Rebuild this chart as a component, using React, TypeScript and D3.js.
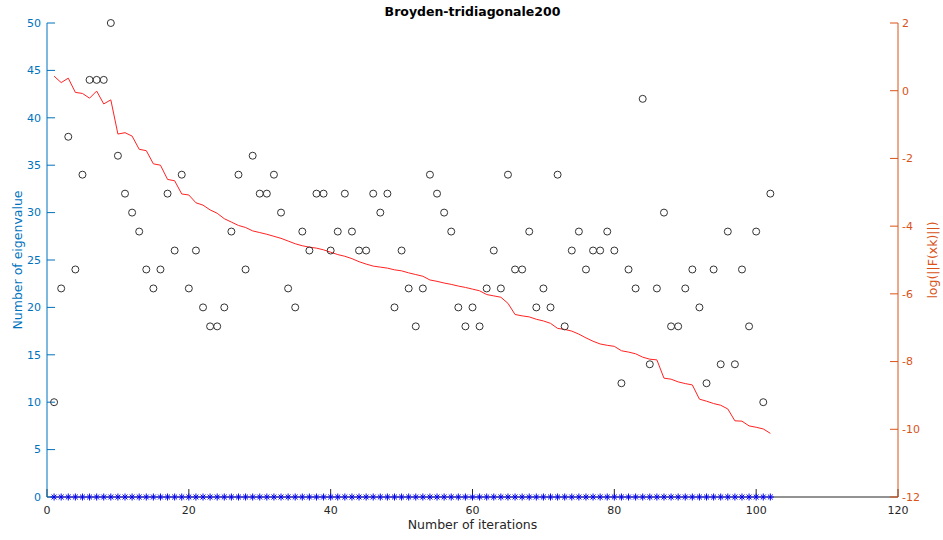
import { useMemo } from 'react';
import * as d3 from 'd3';

const TITLE = 'Broyden-tridiagonale200';

// number of eigenvalues per iteration (black circles)
const eigenCounts = [
  10, 22, 38, 24, 34, 44, 44, 44, 50, 36,
  32, 30, 28, 24, 22, 24, 32, 26, 34, 22,
  26, 20, 18, 18, 20, 28, 34, 24, 36, 32,
  32, 34, 30, 22, 20, 28, 26, 32, 32, 26,
  28, 32, 28, 26, 26, 32, 30, 32, 20, 26,
  22, 18, 22, 34, 32, 30, 28, 20, 18, 20,
  18, 22, 26, 22, 34, 24, 24, 28, 20, 22,
  20, 34, 18, 26, 28, 24, 26, 26, 28, 26,
  12, 24, 22, 42, 14, 22, 30, 18, 18, 22,
  24, 20, 12, 24, 14, 28, 14, 24, 18, 28,
  10, 32,
];

// log(||F(xk)||) per iteration (red line, right axis)
const logResidual = [
  0.43, 0.24, 0.37, -0.05, -0.08, -0.22, -0.01, -0.39, -0.27, -1.28,
  -1.24, -1.34, -1.73, -1.77, -2.16, -2.2, -2.62, -2.66, -3.05, -3.08,
  -3.31, -3.38, -3.52, -3.62, -3.78, -3.88, -3.98, -4.04, -4.14, -4.19,
  -4.24, -4.3, -4.36, -4.44, -4.52, -4.58, -4.62, -4.65, -4.7, -4.77,
  -4.84, -4.89, -4.96, -5.05, -5.12, -5.18, -5.21, -5.24, -5.29, -5.32,
  -5.38, -5.43, -5.48, -5.59, -5.63, -5.68, -5.72, -5.77, -5.81, -5.86,
  -5.91, -6.02, -6.06, -6.1, -6.28, -6.61, -6.65, -6.68, -6.75, -6.8,
  -6.87, -7.02, -7.05, -7.1, -7.19, -7.3, -7.4, -7.48, -7.52, -7.55,
  -7.68, -7.72, -7.77, -7.87, -7.93, -7.95, -8.49, -8.52, -8.6, -8.65,
  -8.69, -9.11, -9.17, -9.24, -9.29, -9.4, -9.75, -9.76, -9.9, -9.94,
  -9.99, -10.12,
];

// blue asterisks along the bottom
const baseMarks = eigenCounts.map(() => 0);

const xTicks = [0, 20, 40, 60, 80, 100, 120];
const leftTicks = [0, 5, 10, 15, 20, 25, 30, 35, 40, 45, 50];
const rightTicks = [-12, -10, -8, -6, -4, -2, 0, 2];

const W = 943;
const H = 540;
const margin = { top: 23, right: 45, bottom: 43, left: 47 };
const FONT = '"DejaVu Sans", sans-serif';
const BLUE = '#0072BD';
const ORANGE = '#D95319';
const DARK = '#262626';
const TICK = 8;

export default function App() {
  const x = useMemo(
    () => d3.scaleLinear().domain([0, 120]).range([margin.left, W - margin.right]),
    []
  );
  const yL = useMemo(
    () => d3.scaleLinear().domain([0, 50]).range([H - margin.bottom, margin.top]),
    []
  );
  const yR = useMemo(
    () => d3.scaleLinear().domain([-12, 2]).range([H - margin.bottom, margin.top]),
    []
  );

  const line = d3
    .line<number>()
    .x((_, i) => x(i + 1))
    .y(d => yR(d));

  const x0 = x.range()[0];
  const x1 = x.range()[1];
  const yb = yL.range()[0];
  const yt = yL.range()[1];

  const star = (cx: number, cy: number, r: number) =>
    `M${cx - r},${cy}H${cx + r}M${cx},${cy - r}V${cy + r}` +
    `M${cx - r * 0.7},${cy - r * 0.7}L${cx + r * 0.7},${cy + r * 0.7}` +
    `M${cx - r * 0.7},${cy + r * 0.7}L${cx + r * 0.7},${cy - r * 0.7}`;

  return (
    <svg
      width={W}
      height={H}
      style={{ position: 'absolute', left: 0, top: 0, background: '#fff' }}
      fontFamily={FONT}
    >
      <rect width={W} height={H} fill="#fff" />

      {/* title */}
      <text x={(x0 + x1) / 2} y={16} textAnchor="middle" fontSize={12.5} fontWeight="bold" fill="#000">
        {TITLE}
      </text>

      {/* bottom axis */}
      <line x1={x0} x2={x1} y1={yb} y2={yb} stroke={DARK} strokeWidth={1} />
      {xTicks.map(t => (
        <g key={'x' + t}>
          <line x1={x(t)} x2={x(t)} y1={yb} y2={yb - TICK} stroke={DARK} />
          <text x={x(t)} y={514} textAnchor="middle" fontSize={11} fill={DARK}>
            {t}
          </text>
        </g>
      ))}
      <text x={(x0 + x1) / 2} y={529} textAnchor="middle" fontSize={12.5} fill={DARK}>
        Number of iterations
      </text>

      {/* left axis */}
      <line x1={x0} x2={x0} y1={yb} y2={yt} stroke={BLUE} />
      {leftTicks.map(t => (
        <g key={'l' + t}>
          <line x1={x0} x2={x0 + TICK} y1={yL(t)} y2={yL(t)} stroke={BLUE} />
          <text x={41} y={yL(t)} dy="0.35em" textAnchor="end" fontSize={11} fill={BLUE}>
            {t}
          </text>
        </g>
      ))}
      <text
        transform={`translate(22,${(yb + yt) / 2}) rotate(-90)`}
        textAnchor="middle"
        fontSize={12.5}
        fill={BLUE}
      >
        Number of eigenvalue
      </text>

      {/* right axis */}
      <line x1={x1} x2={x1} y1={yb} y2={yt} stroke={ORANGE} />
      {rightTicks.map(t => (
        <g key={'r' + t}>
          <line x1={x1} x2={x1 - TICK} y1={yR(t)} y2={yR(t)} stroke={ORANGE} />
          <text x={x1 + 4} y={yR(t)} dy="0.35em" textAnchor="start" fontSize={11} fill={ORANGE}>
            {t}
          </text>
        </g>
      ))}
      <text
        transform={`translate(937,${(yb + yt) / 2}) rotate(-90)`}
        textAnchor="middle"
        fontSize={12.5}
        fill={ORANGE}
      >
        log(||F(xk)||)
      </text>

      {/* residual line */}
      <path d={line(logResidual) ?? ''} fill="none" stroke="#f22" strokeWidth={1} />

      {/* eigenvalue count circles */}
      {eigenCounts.map((v, i) => (
        <circle key={'c' + i} cx={x(i + 1)} cy={yL(v)} r={3.5} fill="none" stroke="#333" strokeWidth={1} />
      ))}

      {/* asterisks on the zero line */}
      {baseMarks.map((v, i) => (
        <path key={'s' + i} d={star(x(i + 1), yL(v), 3.5)} stroke="#0000ff" strokeWidth={1} fill="none" />
      ))}
    </svg>
  );
}
